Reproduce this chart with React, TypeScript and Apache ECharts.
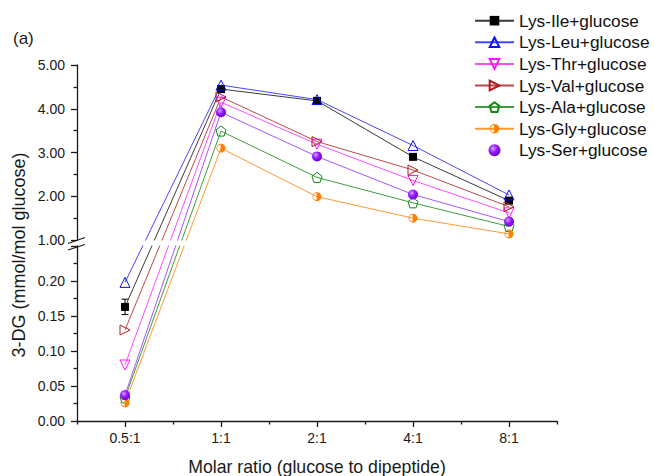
import React, { useEffect, useRef } from "react";
import * as echarts from "echarts";

// ---------- data ----------
const categories = ["0.5:1", "1:1", "2:1", "4:1", "8:1"];
const seriesNames = [
  "Lys-Ile+glucose",
  "Lys-Leu+glucose",
  "Lys-Thr+glucose",
  "Lys-Val+glucose",
  "Lys-Ala+glucose",
  "Lys-Gly+glucose",
  "Lys-Ser+glucose",
];
const ile = [0.163, 4.45, 4.18, 2.9, 1.9];
const leu = [0.198, 4.54, 4.21, 3.16, 2.03];
const thr = [0.08, 4.15, 3.19, 2.36, 1.62];
const val = [0.13, 4.27, 3.25, 2.6, 1.76];
const ala = [0.033, 3.49, 2.43, 1.85, 1.31];
const gly = [0.026, 3.1, 1.99, 1.5, 1.14];
const ser = [0.037, 3.92, 2.91, 2.04, 1.42];
const ileErr = [0.011, 0, 0, 0, 0];

// lower (0 – 0.25) and upper (1 – 5) segments of the broken y axis
const lowerRange = [0, 0.25];
const lowerInterval = 0.05;
const upperRange = [1, 5];
const upperInterval = 1;

const allSeries = [ile, leu, thr, val, ala, gly, ser];

// ---------- styles ----------
const FONT = "'Liberation Sans', Arial, sans-serif";
const INK = "#1a1a1a";
const PENTAGON = "path://M10,0 L19.51,6.91 L15.88,18.09 L4.12,18.09 L0.49,6.91 Z";
const HALF =
  "path://M10,0 A10,10 0 1,1 10,20 A10,10 0 1,1 10,0 Z M9.2,2.6 A7.4,7.4 0 0,0 9.2,17.4 Z";
const CLEAR = "rgba(255,255,255,0)";
const serGradient = {
  type: "radial",
  x: 0.38,
  y: 0.35,
  r: 0.7,
  colorStops: [
    { offset: 0, color: "#d7a6ff" },
    { offset: 0.45, color: "#9a1cff" },
    { offset: 1, color: "#6a00c8" },
  ],
};
const styles: any[] = [
  { symbol: "rect", size: 8, stroke: "#000000", line: "#3a3a3a", fill: "#000000", bw: 0, rotate: 0 },
  { symbol: "triangle", size: 10, stroke: "#1010ff", line: "#4646ff", fill: CLEAR, bw: 1, rotate: 0 },
  { symbol: "triangle", size: 10, stroke: "#ff10ff", line: "#ff4cff", fill: CLEAR, bw: 1, rotate: 180 },
  { symbol: "triangle", size: 10, stroke: "#b01c1c", line: "#b84a4a", fill: CLEAR, bw: 1, rotate: -90 },
  { symbol: PENTAGON, size: 10, stroke: "#108c10", line: "#3e9e3e", fill: CLEAR, bw: 1, rotate: 0 },
  { symbol: HALF, size: 9, stroke: "#ff8000", line: "#ff9a32", fill: "#ff8000", bw: 0, rotate: 0 },
  { symbol: "circle", size: 10, stroke: "#8000ff", line: "#a456ff", fill: serGradient, bw: 0, rotate: 0 },
];

type Conv = { upperFromLower: (v: number) => number; lowerFromUpper: (v: number) => number } | null;

function buildSeries(conv: Conv) {
  const out: any[] = [];
  const upperList: any[] = [];
  const lowerList: any[] = [];
  allSeries.forEach((vals, i) => {
    const st = styles[i];
    const common = {
      type: "line",
      name: seriesNames[i],
      symbol: st.symbol,
      symbolSize: st.size,
      symbolRotate: st.rotate,
      showAllSymbol: true,
      clip: true,
      silent: true,
      animation: false,
      lineStyle: { color: st.line, width: 1 },
      itemStyle: { color: st.fill, borderColor: st.stroke, borderWidth: st.bw },
      emphasis: { disabled: true },
      z: 3,
    };
    const upperData = vals.map((v, j) =>
      j === 0 ? (conv ? { value: conv.upperFromLower(v), symbol: "none" } : null) : v
    );
    const lowerData = vals.map((v, j) =>
      j === 0 ? v : j === 1 ? (conv ? { value: conv.lowerFromUpper(v), symbol: "none" } : null) : null
    );
    upperList.push({ ...common, xAxisIndex: 0, yAxisIndex: 0, data: upperData });
    lowerList.push({ ...common, xAxisIndex: 1, yAxisIndex: 1, data: lowerData });
  });
  out.push(...upperList, ...lowerList);
  // error bars (lower segment)
  const errData = ileErr
    .map((e, j) => (j === 0 && e > 0 ? [j, ile[j] - e, ile[j] + e] : null))
    .filter((d) => d !== null);
  out.push({
    type: "custom",
    name: "ileErr",
    xAxisIndex: 1,
    yAxisIndex: 1,
    silent: true,
    z: 2,
    data: errData,
    renderItem: (_p: any, api: any) => {
      const x = api.value(0);
      const lo = api.coord([x, api.value(1)]);
      const hi = api.coord([x, api.value(2)]);
      const w = 3.5;
      const s = { stroke: "#000", lineWidth: 1 };
      return {
        type: "group",
        children: [
          { type: "line", shape: { x1: lo[0], y1: lo[1], x2: hi[0], y2: hi[1] }, style: s },
          { type: "line", shape: { x1: lo[0] - w, y1: lo[1], x2: lo[0] + w, y2: lo[1] }, style: s },
          { type: "line", shape: { x1: hi[0] - w, y1: hi[1], x2: hi[0] + w, y2: hi[1] }, style: s },
        ],
      };
    },
  });
  return out;
}

function buildOption(conv: Conv) {
  const axisLine = { show: true, lineStyle: { color: INK, width: 1.3 } };
  const tickStyle = { color: INK, width: 1.3 };
  const yLabel = { fontSize: 14, color: INK, fontFamily: FONT, margin: 12 };
  return {
    animation: false,
    backgroundColor: "#ffffff",
    grid: [
      { left: 77, top: 65, width: 480, height: 175, outerBoundsMode: "none", containLabel: false },
      { left: 77, top: 246, width: 480, height: 175, outerBoundsMode: "none", containLabel: false },
    ],
    xAxis: [
      { gridIndex: 0, type: "category", data: categories, boundaryGap: true, show: false },
      {
        gridIndex: 1,
        type: "category",
        data: categories,
        boundaryGap: true,
        position: "bottom",
        axisLine,
        axisTick: { show: true, alignWithLabel: true, length: 6, lineStyle: tickStyle },
        axisLabel: { fontSize: 14, color: INK, fontFamily: FONT, margin: 10 },
        splitLine: { show: false },
      },
      {
        gridIndex: 1,
        type: "category",
        data: categories,
        boundaryGap: true,
        position: "bottom",
        offset: 0,
        axisLine: { show: false },
        axisTick: { show: true, length: 3.5, lineStyle: tickStyle },
        axisLabel: { show: false },
        splitLine: { show: false },
      },
    ],
    yAxis: [
      {
        gridIndex: 0,
        type: "value",
        min: upperRange[0],
        max: upperRange[1],
        interval: upperInterval,
        axisLine,
        axisTick: { show: true, length: 6, lineStyle: tickStyle },
        minorTick: { show: true, splitNumber: 2, length: 3.5, lineStyle: tickStyle },
        splitLine: { show: false },
        axisLabel: { ...yLabel, formatter: (v: number) => v.toFixed(2) },
      },
      {
        gridIndex: 1,
        type: "value",
        min: lowerRange[0],
        max: lowerRange[1],
        interval: lowerInterval,
        axisLine,
        axisTick: { show: true, length: 6, lineStyle: tickStyle },
        minorTick: { show: true, splitNumber: 2, length: 3.5, lineStyle: tickStyle },
        splitLine: { show: false },
        axisLabel: {
          ...yLabel,
          formatter: (v: number) => (v > lowerRange[1] - 1e-6 ? "" : v.toFixed(2)),
        },
      },
    ],
    legend: {
      orient: "vertical",
      left: 474,
      top: 10.7,
      padding: 0,
      itemWidth: 39,
      itemHeight: 12,
      itemGap: 1.6,
      selectedMode: false,
      textStyle: { fontSize: 17.3, color: "#111", fontFamily: FONT, lineHeight: 20 },
      data: seriesNames.map((n, i) => (i === 6 ? { name: n, icon: "circle" } : { name: n })),
    },
    graphic: [
      {
        type: "line",
        z: 100,
        shape: { x1: 68, y1: 243.5, x2: 85, y2: 237.5 },
        style: { stroke: INK, lineWidth: 1.3 },
      },
      {
        type: "line",
        z: 100,
        shape: { x1: 68, y1: 250, x2: 85, y2: 244.5 },
        style: { stroke: INK, lineWidth: 1.3 },
      },
      {
        type: "text",
        x: 13,
        y: 38,
        style: {
          text: "(a)",
          fill: INK,
          fontSize: 17,
          fontFamily: FONT,
          align: "left",
          verticalAlign: "middle",
          textAlign: "left",
          textVerticalAlign: "middle",
        },
      },
      {
        type: "text",
        x: 317,
        y: 466.5,
        style: {
          text: "Molar ratio (glucose to dipeptide)",
          fill: INK,
          fontSize: 17.7,
          fontFamily: FONT,
          align: "center",
          verticalAlign: "middle",
          textAlign: "center",
          textVerticalAlign: "middle",
        },
      },
      {
        type: "text",
        x: 18.5,
        y: 255,
        rotation: Math.PI / 2,
        style: {
          text: "3-DG (mmol/mol glucose)",
          fill: INK,
          fontSize: 18,
          fontFamily: FONT,
          align: "center",
          verticalAlign: "middle",
          textAlign: "center",
          textVerticalAlign: "middle",
        },
      },
    ],
    series: buildSeries(conv),
  };
}

export default function App() {
  const ref = useRef<HTMLDivElement>(null);
  useEffect(() => {
    if (!ref.current) return;
    const chart = echarts.init(ref.current, null, { renderer: "svg" });
    chart.setOption(buildOption(null) as any);
    const upperFromLower = (v: number) => {
      const py = chart.convertToPixel({ yAxisIndex: 1 } as any, v) as unknown as number;
      return chart.convertFromPixel({ yAxisIndex: 0 } as any, py) as unknown as number;
    };
    const lowerFromUpper = (v: number) => {
      const py = chart.convertToPixel({ yAxisIndex: 0 } as any, v) as unknown as number;
      return chart.convertFromPixel({ yAxisIndex: 1 } as any, py) as unknown as number;
    };
    chart.setOption(buildOption({ upperFromLower, lowerFromUpper }) as any, true);
    return () => chart.dispose();
  }, []);
  return (
    <div
      ref={ref}
      style={{ position: "fixed", left: 0, top: 0, width: 654, height: 476, background: "#fff" }}
    />
  );
}
